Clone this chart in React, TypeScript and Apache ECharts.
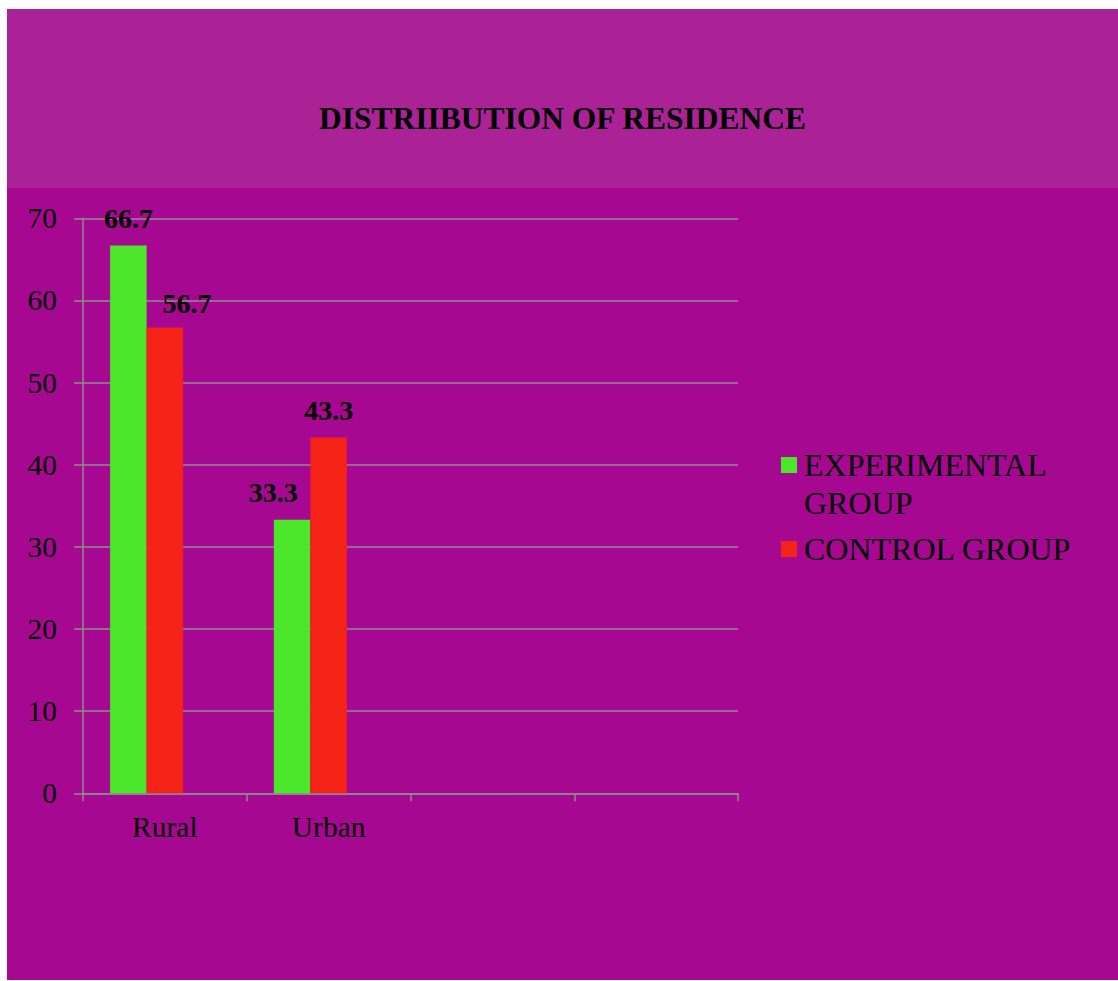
import React, { useEffect, useRef } from "react";
import * as echarts from "echarts";

// Residence distribution (%) per study group
const categories = ["Rural", "Urban", "", ""];
const experimentalGroup = [66.7, 33.3];
const controlGroup = [56.7, 43.3];
const yTicks = { min: 0, max: 70, interval: 10 };

const SERIF = '"Liberation Serif", "Times New Roman", serif';
const GRID_GRAY = "#8C8C8C";

export default function App() {
  const ref = useRef<HTMLDivElement>(null);

  useEffect(() => {
    if (!ref.current) return;
    const chart = echarts.init(ref.current, undefined, { renderer: "svg" });

    const labelBase = {
      show: true,
      position: "top" as const,
      distance: 13,
      fontSize: 28,
      lineHeight: 28,
      fontWeight: "bold" as const,
      fontFamily: SERIF,
      color: "#000",
    };

    const legendText = {
      fontSize: 32,
      lineHeight: 38,
      fontFamily: SERIF,
      color: "#000",
      padding: [0, 0, 0, 2],
    };

    chart.setOption({
      animation: false,
      backgroundColor: "#A60892",
      graphic: [
        {
          type: "rect",
          z: -10,
          shape: { x: 0, y: 0, width: 1111, height: 179 },
          style: { fill: "#AB2297" },
        },
      ],
      title: {
        text: "DISTRIIBUTION OF RESIDENCE",
        left: "center",
        top: 93,
        padding: 0,
        textStyle: {
          fontSize: 31.5,
          lineHeight: 32,
          fontWeight: "bold",
          fontFamily: SERIF,
          color: "#000",
        },
      },
      legend: [
        {
          data: ["EXPERIMENTAL GROUP"],
          // leading empty line keeps the swatch level with the first text line
          formatter: () => "\nEXPERIMENTAL\nGROUP",
          orient: "vertical",
          left: 774,
          top: 399,
          padding: 0,
          icon: "rect",
          itemWidth: 16,
          itemHeight: 16,
          textStyle: legendText,
        },
        {
          data: ["CONTROL GROUP"],
          orient: "vertical",
          left: 774,
          top: 521,
          padding: 0,
          icon: "rect",
          itemWidth: 16,
          itemHeight: 16,
          textStyle: legendText,
        },
      ],
      grid: { left: 76, top: 209.3, right: 380, bottom: 186.7 },
      xAxis: {
        type: "category",
        data: categories,
        axisLine: { show: true, lineStyle: { color: GRID_GRAY, width: 1.5 } },
        axisTick: {
          show: true,
          length: 8,
          alignWithLabel: false,
          lineStyle: { color: GRID_GRAY, width: 1.5 },
        },
        axisLabel: {
          margin: 19,
          fontSize: 29.5,
          lineHeight: 29,
          fontFamily: SERIF,
          color: "#000",
        },
      },
      yAxis: {
        type: "value",
        min: yTicks.min,
        max: yTicks.max,
        interval: yTicks.interval,
        axisLine: { show: true, lineStyle: { color: GRID_GRAY, width: 1.5 } },
        axisTick: {
          show: true,
          length: 9,
          lineStyle: { color: GRID_GRAY, width: 1.5 },
        },
        splitLine: { show: true, lineStyle: { color: GRID_GRAY, width: 1.5 } },
        axisLabel: {
          margin: 26,
          fontSize: 29.5,
          lineHeight: 29,
          fontFamily: SERIF,
          color: "#000",
        },
      },
      series: [
        {
          name: "EXPERIMENTAL GROUP",
          type: "bar",
          barWidth: 36.5,
          barGap: "0%",
          itemStyle: { color: "#4CE62A" },
          label: labelBase,
          data: experimentalGroup.map((v, i) =>
            i === 1 ? { value: v, label: { offset: [-19, 0] } } : v
          ),
        },
        {
          name: "CONTROL GROUP",
          type: "bar",
          barWidth: 36.5,
          barGap: "0%",
          itemStyle: { color: "#F52317" },
          label: labelBase,
          data: controlGroup.map((v, i) =>
            i === 0 ? { value: v, label: { offset: [22, 2.5] } } : v
          ),
        },
        {
          // empty third slot in each category
          name: "spacer",
          type: "bar",
          barWidth: 36.5,
          barGap: "0%",
          data: categories.map(() => null),
        },
      ],
    });

    return () => chart.dispose();
  }, []);

  return (
    <div
      ref={ref}
      style={{
        position: "absolute",
        left: 7,
        top: 9,
        width: 1111,
        height: 971,
      }}
    />
  );
}
